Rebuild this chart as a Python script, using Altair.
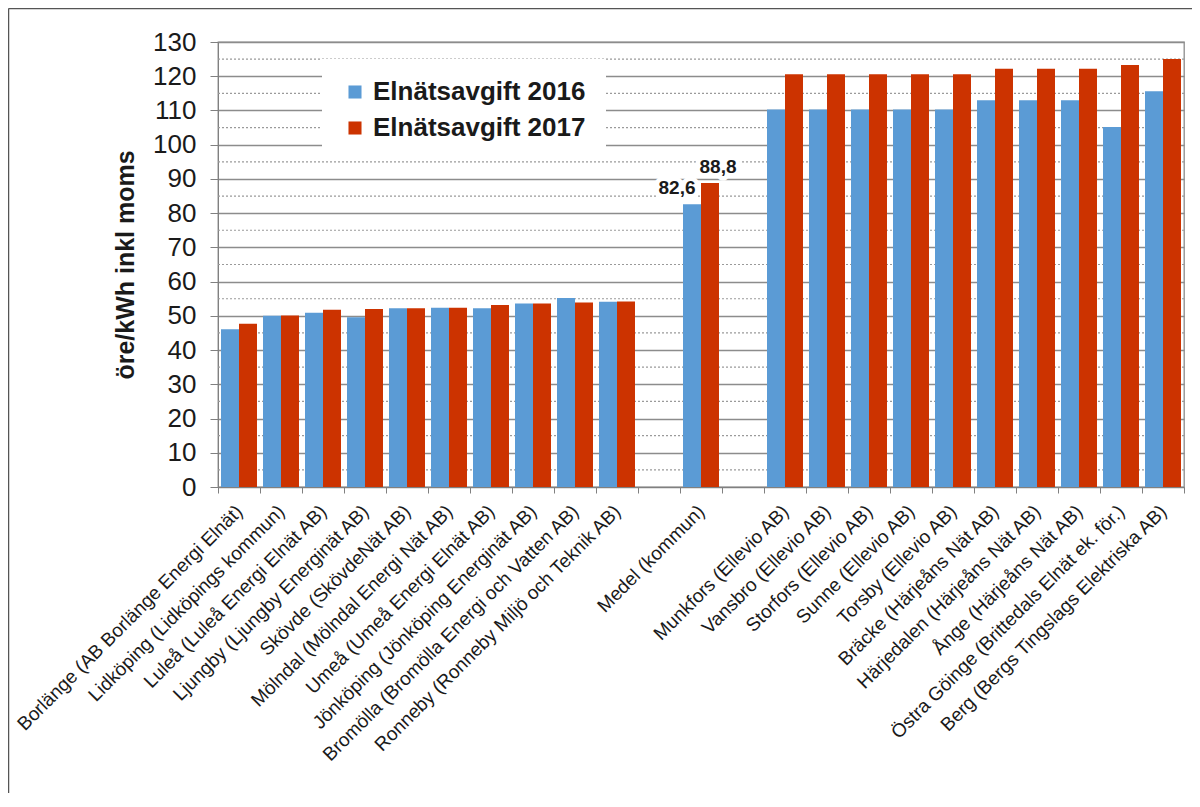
import altair as alt
import pandas as pd

categories = [
    "Borlänge (AB Borlänge Energi Elnät)",
    "Lidköping (Lidköpings kommun)",
    "Luleå (Luleå Energi Elnät AB)",
    "Ljungby (Ljungby Energinät AB)",
    "Skövde (SkövdeNät AB)",
    "Mölndal (Mölndal Energi Nät AB)",
    "Umeå (Umeå Energi Elnät AB)",
    "Jönköping (Jönköping Energinät AB)",
    "Bromölla (Bromölla Energi och Vatten AB)",
    "Ronneby (Ronneby Miljö och Teknik AB)",
    " ",
    "Medel (kommun)",
    "  ",
    "Munkfors (Ellevio AB)",
    "Vansbro (Ellevio AB)",
    "Storfors (Ellevio AB)",
    "Sunne (Ellevio AB)",
    "Torsby (Ellevio AB)",
    "Bräcke (Härjeåns Nät AB)",
    "Härjedalen (Härjeåns Nät AB)",
    "Ånge (Härjeåns Nät AB)",
    "Östra Göinge (Brittedals Elnät ek. för.)",
    "Berg (Bergs Tingslags Elektriska AB)",
]

avgift_2016 = [46.1, 50.0, 50.9, 49.6, 52.2, 52.4, 52.2, 53.6, 55.2, 54.1,
               None, 82.6, None,
               110.3, 110.3, 110.3, 110.3, 110.3, 113.0, 113.0, 113.0, 105.2, 115.6]
avgift_2017 = [47.7, 50.1, 51.8, 52.0, 52.2, 52.4, 53.2, 53.6, 53.9, 54.2,
               None, 88.8, None,
               120.6, 120.6, 120.6, 120.6, 120.6, 122.2, 122.2, 122.2, 123.3, 125.0]

series = ["Elnätsavgift 2016", "Elnätsavgift 2017"]
colors = ["#5B9BD5", "#CC3300"]
labelled = ["Medel (kommun)"]
minor_grid = [5, 15, 25, 35, 45, 55, 65, 75, 85, 95, 105, 115, 125]
major_ticks = list(range(0, 131, 10))

rows = []
for cat, v16, v17 in zip(categories, avgift_2016, avgift_2017):
    for s, v in zip(series, [v16, v17]):
        if v is not None:
            rows.append({"kommun": cat, "serie": s, "varde": v,
                         "etikett": f"{v:.1f}".replace(".", ",")})
df = pd.DataFrame(rows)
df_lab = df[df["kommun"].isin(labelled)]

FONT = "Liberation Sans"
W, H = 966, 445

x_enc = alt.X("kommun:N", sort=categories,
              scale=alt.Scale(domain=categories, paddingInner=0, paddingOuter=0),
              axis=alt.Axis(title=None, labelAngle=-45, labelAlign="right",
                            labelBaseline="middle", labelFontSize=19, labelFont=FONT,
                            labelColor="#1a1a1a", labelPadding=15, labelLimit=600,
                            labelOverlap=False,
                            tickBand="extent", tickSize=6, tickColor="#808080",
                            domainColor="#808080", grid=False))
xoff = alt.XOffset("serie:N", sort=series,
                   scale=alt.Scale(paddingOuter=0.167, paddingInner=0))

y_axis = alt.Axis(title="öre/kWh inkl moms", titleFontSize=25,
                  titleFont=FONT, titleFontWeight="bold", titleColor="#1a1a1a",
                  titlePadding=14, values=major_ticks, tickCount=14, labelFontSize=26,
                  labelFont=FONT, labelColor="#1a1a1a", labelPadding=14,
                  labelOverlap=False, labelFlush=False,
                  tickSize=8, tickColor="#808080", domainColor="#808080",
                  grid=True, gridColor="#8c8c8c", gridWidth=1.3)
y_scale = alt.Scale(domain=[0, 130], nice=False)

minor = alt.Chart(pd.DataFrame({"g": minor_grid})).mark_rule(
    color="#9a9a9a", strokeDash=[2, 2], strokeWidth=1.2
).encode(y=alt.Y("g:Q", scale=y_scale, axis=y_axis))

bars = alt.Chart(df).mark_bar(opacity=1).encode(
    x=x_enc, xOffset=xoff,
    y=alt.Y("varde:Q", scale=y_scale, axis=y_axis),
    color=alt.Color("serie:N", sort=series,
                    scale=alt.Scale(domain=series, range=colors),
                    legend=alt.Legend(title=None, orient="none", legendX=104, legendY=17,
                                      fillColor="white", padding=20, symbolType="square",
                                      symbolSize=170, symbolStrokeWidth=0,
                                      labelFontSize=26, labelFont=FONT,
                                      labelFontWeight="bold", labelColor="#1a1a1a",
                                      labelOffset=5, rowPadding=10, labelLimit=400)),
)

def lab_layer(s, dx, halo):
    kw = dict(font=FONT, fontSize=19, fontWeight="bold", dx=dx, dy=-6,
              baseline="bottom", align="center")
    if halo:
        kw.update(stroke="white", strokeWidth=9, strokeJoin="round", color="white")
    else:
        kw.update(color="#1a1a1a")
    return alt.Chart(df_lab[df_lab["serie"] == s]).mark_text(**kw).encode(
        x=alt.X("kommun:N", sort=categories), xOffset=alt.XOffset("serie:N", sort=series),
        y=alt.Y("varde:Q", scale=y_scale, axis=y_axis), text="etikett:N")

labels = (lab_layer(series[0], -15, True) + lab_layer(series[1], 8, True)
          + lab_layer(series[0], -15, False) + lab_layer(series[1], 8, False))

frame = alt.Chart(pd.DataFrame({"a": [0]})).mark_rule(color="#555555", strokeWidth=1.5).encode(
    x=alt.value(-209.5), y=alt.value(-33.5), y2=alt.value(800))
frame_top = alt.Chart(pd.DataFrame({"a": [0]})).mark_rule(color="#555555", strokeWidth=1.5).encode(
    x=alt.value(-209.5), x2=alt.value(1000), y=alt.value(-33.5))

chart = alt.layer(minor, bars, labels, frame, frame_top).resolve_scale(y="shared").properties(
    width=W, height=H,
    autosize=alt.AutoSizeParams(type="none"),
    padding={"left": 210, "top": 34, "right": 8, "bottom": 306},
    background="white",
).configure_view(stroke="#8c8c8c", strokeWidth=1.3)

chart.save("out.html", embed_options={"renderer": "svg", "actions": False})
